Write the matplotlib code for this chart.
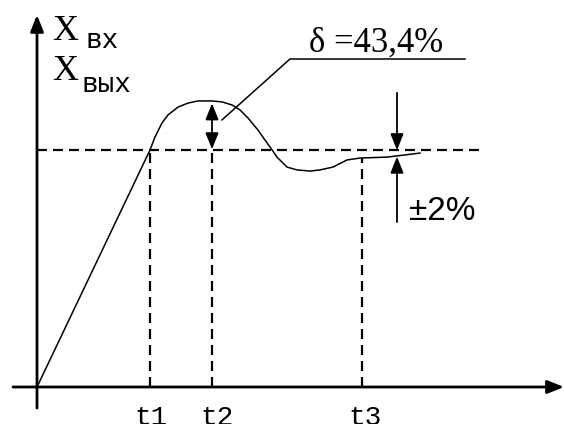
import matplotlib
matplotlib.use("Agg")
import matplotlib.pyplot as plt
import numpy as np

# transient response of the output (time in arbitrary units, output relative to steady value)
t_resp = [0, 113, 118, 125, 131, 141, 151, 161, 175, 185, 195, 203, 211, 221,
          228, 233, 240, 250, 260, 273, 283, 296, 310, 323, 350, 383]
x_resp = [0.0, 1.000, 1.055, 1.114, 1.148, 1.181, 1.198, 1.207, 1.207, 1.203,
          1.190, 1.169, 1.135, 1.084, 1.042, 1.013, 0.970, 0.928, 0.916, 0.911,
          0.916, 0.928, 0.958, 0.966, 0.970, 0.987]

steady = 1.0
peak = 1.207
t_marks = [113, 175, 325]
t_names = ["t1", "t2", "t3"]
overshoot_label = "δ =43,4%"
band_label = "±2%"

fig = plt.figure(figsize=(5.64, 4.24), dpi=100)
ax = fig.add_axes([0, 0, 1, 1])
ax.set_xlim(-37, 527)
ax.set_ylim(-37 / 237, 387 / 237)
ax.axis("off")

MONO = "Liberation Mono"
SERIF = "Liberation Serif"
SANS = "Liberation Sans"


def arrow(x0, y0, x1, y1, lw=1.3):
    ax.annotate("", xy=(x1, y1), xytext=(x0, y0),
                arrowprops=dict(arrowstyle="-|>,head_length=0.55,head_width=0.22",
                                mutation_scale=18, lw=lw, color="black",
                                shrinkA=0, shrinkB=0))


# axes with arrows
arrow(0, -0.089, 0, 1.570, lw=2)
arrow(-24, 0, 527, 0, lw=2)

# steady level and time markers
dash = dict(color="black", lw=1.6, dashes=(4.5, 2.7))
ax.plot([0, 443], [steady, steady], **dash)
ax.plot([t_marks[0], t_marks[0]], [0, steady], **dash)
ax.plot([t_marks[1], t_marks[1]], [0, steady], **dash)
ax.plot([t_marks[2], t_marks[2]], [0, np.interp(t_marks[2], t_resp, x_resp)], **dash)

# response curve
ax.plot(t_resp, x_resp, color="black", lw=1.1)

# overshoot double arrow
ax.annotate("", xy=(t_marks[1], peak - 0.01), xytext=(t_marks[1], steady + 0.003),
            arrowprops=dict(arrowstyle="<|-|>,head_length=0.55,head_width=0.22",
                            mutation_scale=18, lw=1.3, color="black",
                            shrinkA=0, shrinkB=0))

# leader for the overshoot label
ax.plot([185, 253, 428], [1.127, 1.384, 1.384], color="black", lw=1.1)
ax.text(339, 1.413, overshoot_label, family=SERIF, fontsize=25,
        ha="center", va="baseline")

# tolerance band arrows
arrow(360, 1.241, 360, 0.999)
arrow(360, 0.696, 360, 0.972)
ax.text(372, 0.705, band_label, family=SANS, fontsize=24, ha="left", va="baseline")

# axis labels
ax.text(15, 1.464, "X", family=SERIF, fontsize=26, ha="left", va="baseline")
ax.text(48, 1.430, "вх", family=MONO, fontsize=20, ha="left", va="baseline")
ax.text(15, 1.295, "X", family=SERIF, fontsize=26, ha="left", va="baseline")
ax.text(44, 1.245, "вых", family=MONO, fontsize=20, ha="left", va="baseline")

for tm, name, dx in zip(t_marks, t_names, [1, 5, 3]):
    ax.text(tm + dx, -0.162, name, family=MONO, fontsize=20, ha="center", va="baseline")
ax.text(524, -0.162, "t", family=MONO, fontsize=20, ha="left", va="baseline")

fig.savefig("out.png", dpi=100)
